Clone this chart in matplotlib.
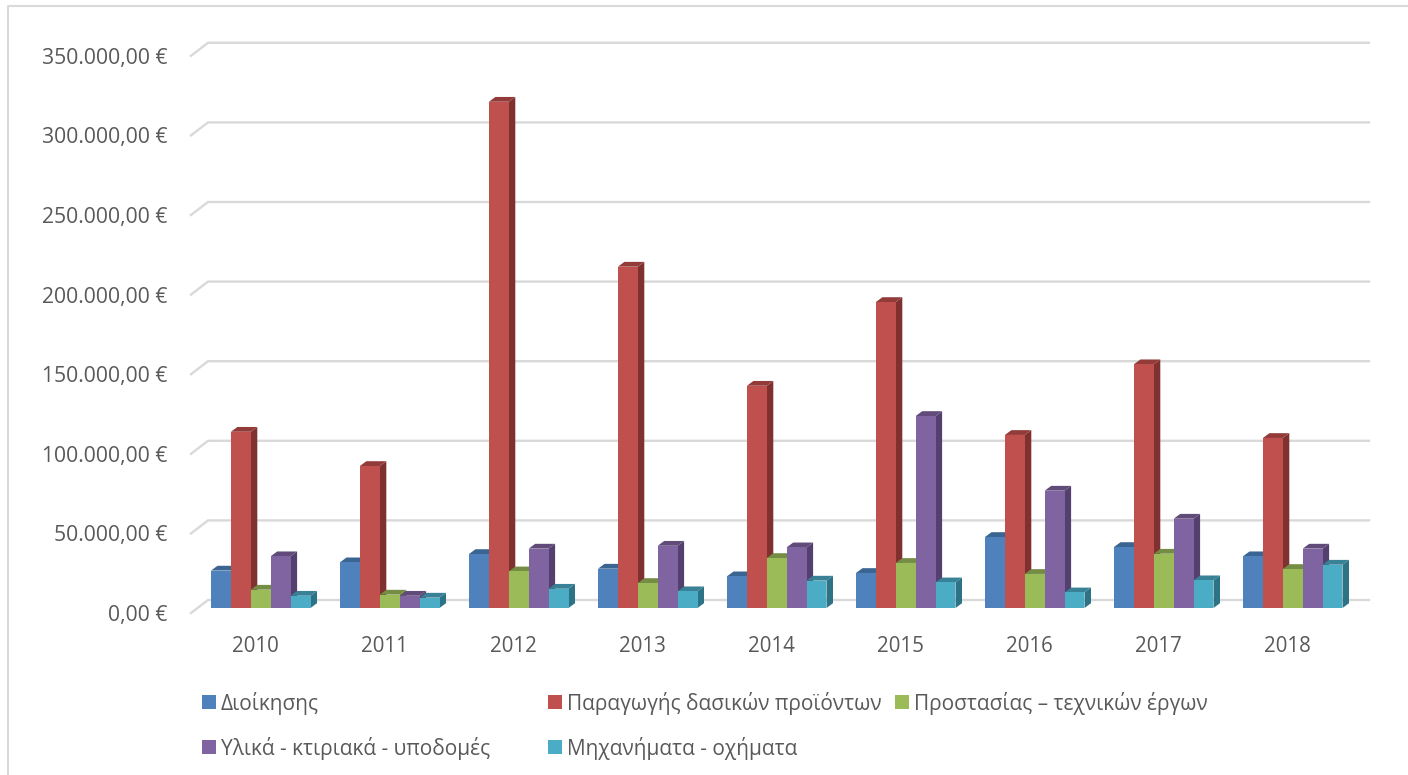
import matplotlib.pyplot as plt
from matplotlib.lines import Line2D
from matplotlib.patches import Rectangle

plt.rcParams['font.family'] = ['Open Sans', 'DejaVu Sans']

years = ['2010', '2011', '2012', '2013', '2014', '2015', '2016', '2017', '2018']
dioikisis = [23500, 28700, 33900, 24700, 19900, 22000, 44600, 38300, 32500]
paragogis = [110700, 89200, 318000, 214400, 139600, 192200, 108700, 153100, 106800]
prostasias = [11500, 8400, 23000, 15700, 31400, 28300, 21400, 34100, 24500]
ylika = [32500, 7700, 37300, 39100, 38100, 120600, 73700, 56100, 37300]
michanimata = [7700, 6500, 12100, 10500, 17200, 16100, 9800, 17400, 27200]
ticks = [0, 50000, 100000, 150000, 200000, 250000, 300000, 350000]
tick_labels = ['0,00 €', '50.000,00 €', '100.000,00 €', '150.000,00 €',
               '200.000,00 €', '250.000,00 €', '300.000,00 €', '350.000,00 €']

series = [
    ('Διοίκησης', dioikisis, '#4F81BD', '#3A6491', '#3A6491'),
    ('Παραγωγής δασικών προϊόντων', paragogis, '#C0504D', '#933B39', '#7F312F'),
    ('Προστασίας – τεχνικών έργων', prostasias, '#9BBB59', '#748C43', '#637A38'),
    ('Υλικά - κτιριακά - υποδομές', ylika, '#8064A2', '#614B7A', '#54406F'),
    ('Μηχανήματα - οχήματα', michanimata, '#4BACC6', '#388196', '#2C7385'),
]

W, H = 1408, 775
fig = plt.figure(figsize=(W / 100, H / 100), dpi=100)
ax = fig.add_axes([191 / W, (H - 613) / H, 1161 / W, 557.2 / H])
ax.set_xlim(-0.5, 8.5)
ax.set_ylim(0, 350000)
for s in ax.spines.values():
    s.set_visible(False)
ax.patch.set_visible(False)

# one pixel in data units, used for the fake 3d depth
px_x = 1 / 129
px_y = 50000 / 79.6

# back wall gridlines
wall_x = 17 * px_x
wall_y = 13 * px_y
for t in ticks:
    ax.plot([-0.5, -0.5 + wall_x, 8.5 + wall_x], [t, t + wall_y, t + wall_y],
            color='#D9D9D9', lw=1.7, clip_on=False, zorder=1, solid_joinstyle='miter')

# bars, left to right so that each front hides the side of the previous bar
bar_w = 19.9 * px_x
depth_x = 6.5 * px_x
depth_y = 4.8 * px_y
base = 5 * px_y
offset = 5.25 * px_x
z = 2
for i in range(len(years)):
    for k, (name, vals, front, top, side) in enumerate(series):
        x0 = i + offset + (k - 2.5) * bar_w
        x1 = x0 + bar_w
        y1 = base + vals[i]
        ax.fill([x1, x1 + depth_x, x1 + depth_x, x1],
                [base, base + depth_y, y1 + depth_y, y1],
                color=side, lw=0, clip_on=False, zorder=z)
        ax.fill([x0, x1, x1 + depth_x, x0 + depth_x],
                [y1, y1, y1 + depth_y, y1 + depth_y],
                color=top, lw=0, clip_on=False, zorder=z)
        ax.bar(x0, vals[i], width=bar_w, bottom=base, align='edge', color=front,
               lw=0, clip_on=False, zorder=z + 1)
        z += 2

ax.set_xticks(range(len(years)))
ax.set_xticklabels(years)
ax.set_yticks(ticks)
ax.set_yticklabels(tick_labels)
ax.tick_params(axis='x', length=0, pad=16.2, labelsize=14.8, labelcolor='#595959')
ax.tick_params(axis='y', length=0, pad=17, labelsize=15.2, labelcolor='#595959')

# legend laid out by hand, the columns are evenly spaced in the original
legend_pos = [(202, 702), (548, 702), (895, 702), (202, 747), (548, 747)]
for (name, vals, front, top, side), (lx, ly) in zip(series, legend_pos):
    fig.add_artist(Rectangle((lx / W, 1 - (ly + 7) / H), 14 / W, 14 / H, color=front, lw=0,
                             transform=fig.transFigure))
    fig.text((lx + 19) / W, 1 - (ly - 1) / H, name, color='#595959', fontsize=15, va='center_baseline')

# chart frame, only top and left are inside the picture
fig.add_artist(Line2D([8 / W, 8 / W, 1], [0, 1 - 5.5 / H, 1 - 5.5 / H], color='#D9D9D9', lw=1.5))

fig.savefig('out.png', dpi=100)
